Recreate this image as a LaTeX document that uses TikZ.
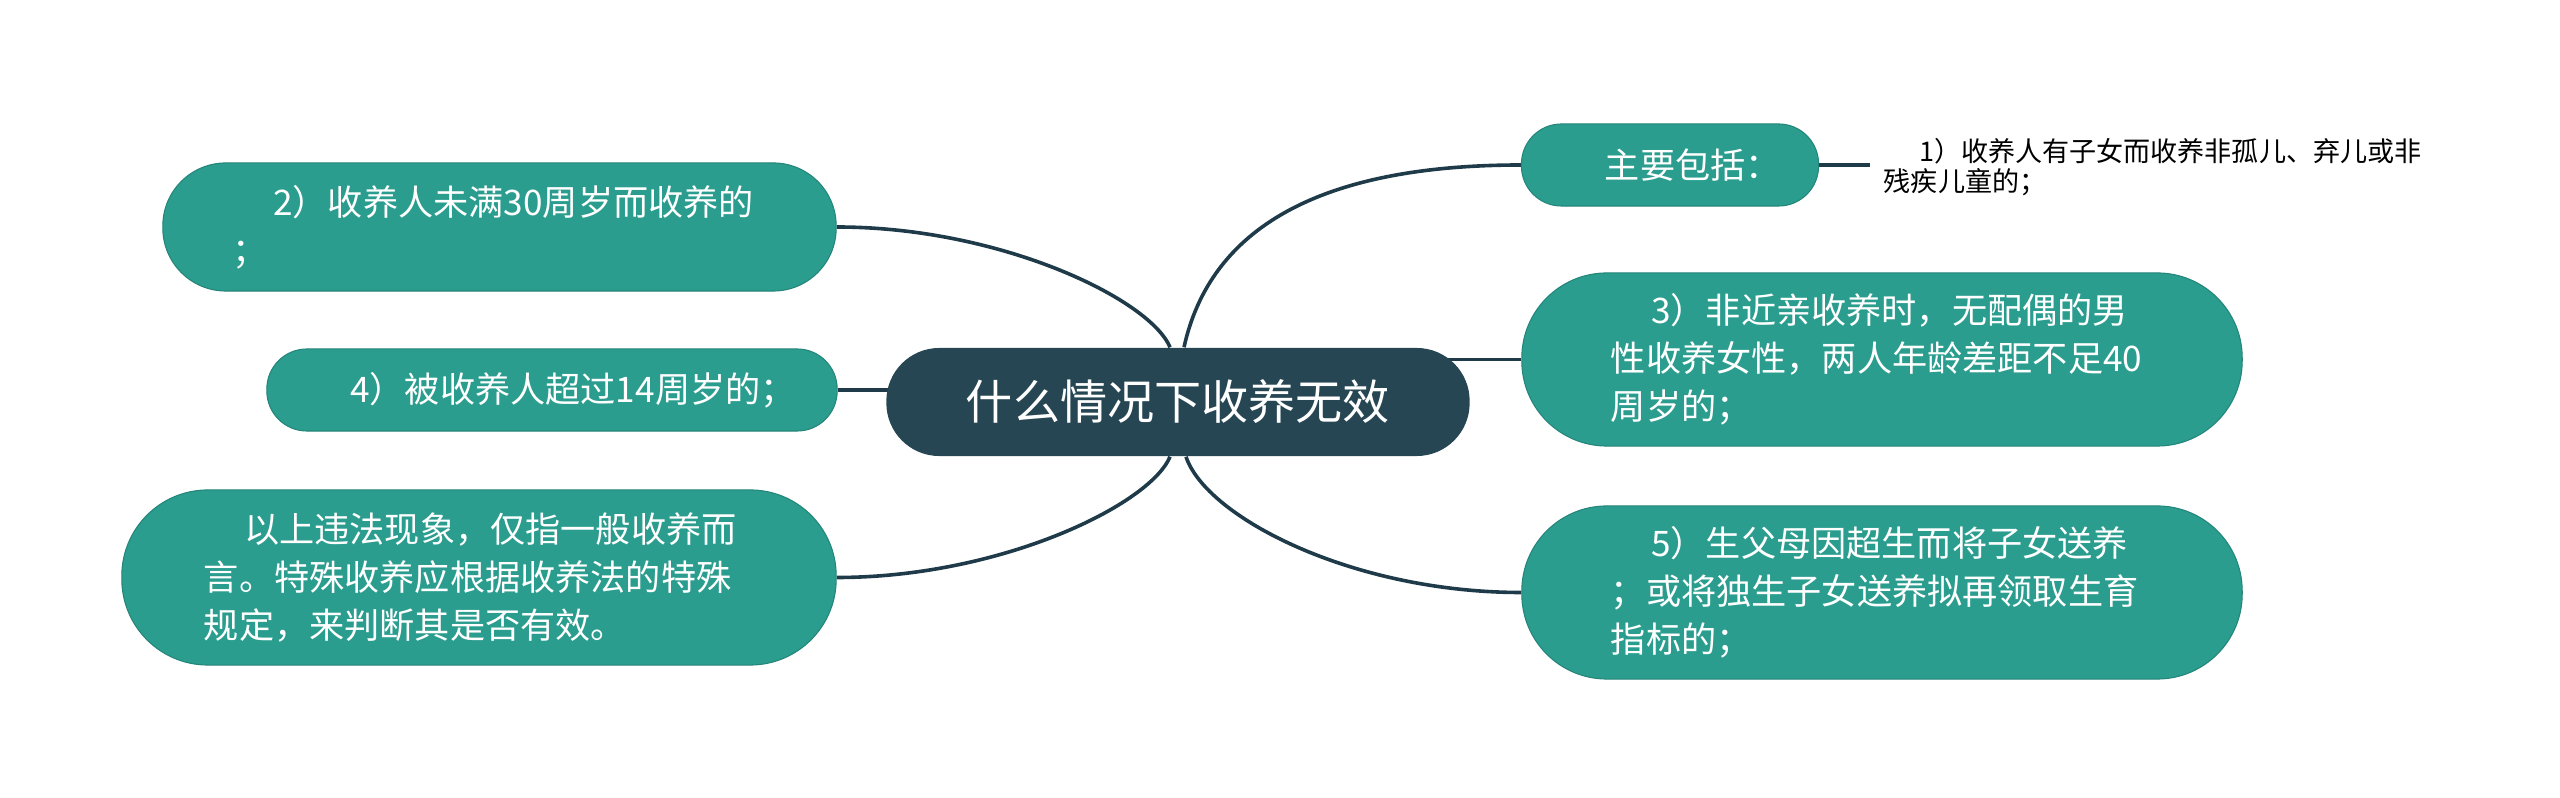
\documentclass[tikz,border=0pt]{standalone}
\usepackage{fontspec}
\setmainfont{Noto Sans CJK SC}
\usepackage{xcolor}
\definecolor{rootblue}{HTML}{264653}
\definecolor{leafteal}{HTML}{2A9D8F}
\definecolor{linkblue}{HTML}{1F3B4A}
\usepackage{tikz}
\usetikzlibrary{positioning,backgrounds}
\newcommand{\ind}{\hspace*{1.15em}}
\tikzset{
  topic/.style={rectangle,fill=rootblue,text=white,rounded corners=0.53cm,minimum width=5.83cm,minimum height=1.08cm,font=\fontsize{13.4pt}{16pt}\selectfont},
  leaf/.style={rectangle,fill=leafteal,draw=leafteal!85!black,line width=0.3pt,text=white,align=left,font=\fontsize{10pt}{13.66pt}\selectfont},
  note/.style={align=left,inner xsep=0pt,font=\fontsize{7.7pt}{8.55pt}\selectfont},
  link/.style={draw=linkblue,line width=0.036cm}
}

\begin{document}
\begin{tikzpicture}[x=0.01cm,y=-0.01cm]
  \useasboundingbox (0,0) rectangle (2560,798);

  \node[topic] (root) at (1178,402) {什么情况下收养无效};

  \node[leaf,minimum width=2.97cm,minimum height=0.82cm,text width=2.11cm,rounded corners=0.4cm] (main) at (1670,165) {\ind 主要包括：};
  \node[note,right=0.64cm of main,yshift=-0.02cm,text width=5.6cm] (note1) {\hspace*{1.3em}1）收养人有子女而收养非孤儿、弃儿或非\\残疾儿童的；};

  \node[leaf,minimum width=6.73cm,minimum height=1.28cm,text width=5.33cm,rounded corners=0.63cm] (adopt30) at (499.5,227) {\ind 2）收养人未满30周岁而收养的\\；};
  \node[leaf,minimum width=7.2cm,minimum height=1.73cm,text width=5.42cm,rounded corners=0.85cm] (kinless) at (1882,359.5) {\ind 3）非近亲收养时，无配偶的男\\性收养女性，两人年龄差距不足40\\周岁的；};
  \node[leaf,minimum width=5.7cm,minimum height=0.82cm,text width=4.84cm,rounded corners=0.4cm] (over14) at (552,390) {\ind 4）被收养人超过14周岁的；};
  \node[leaf,minimum width=7.2cm,minimum height=1.73cm,text width=5.42cm,rounded corners=0.85cm] (quota) at (1882,592.5) {\ind 5）生父母因超生而将子女送养\\；或将独生子女送养拟再领取生育\\指标的；};
  \node[leaf,minimum width=7.14cm,minimum height=1.75cm,text width=5.5cm,rounded corners=0.86cm] (special) at (479,577.5) {\ind 以上违法现象，仅指一般收养而\\言。特殊收养应根据收养法的特殊\\规定，来判断其是否有效。};

  \begin{scope}[on background layer]
    \draw[link] ([xshift=.06cm]root.north) .. controls +(26,-118) and +(-203,0) .. (main.west);
    \draw[link] (main.east) -- ([xshift=-.13cm]main.east -| note1.west);
    \draw[link] ([xshift=-.08cm]root.north) .. controls +(-20,-48) and +(164,0) .. (adopt30.east);
    \draw[link] (kinless.west) -- (kinless.west -| root.center);
    \draw[link] (over14.east) -- (over14.east -| root.center);
    \draw[link] ([xshift=.08cm]root.south) .. controls +(20,60) and +(-170,0) .. (quota.west);
    \draw[link] ([xshift=-.08cm]root.south) .. controls +(-20,48) and +(164,0) .. (special.east);
  \end{scope}
\end{tikzpicture}
\end{document}
